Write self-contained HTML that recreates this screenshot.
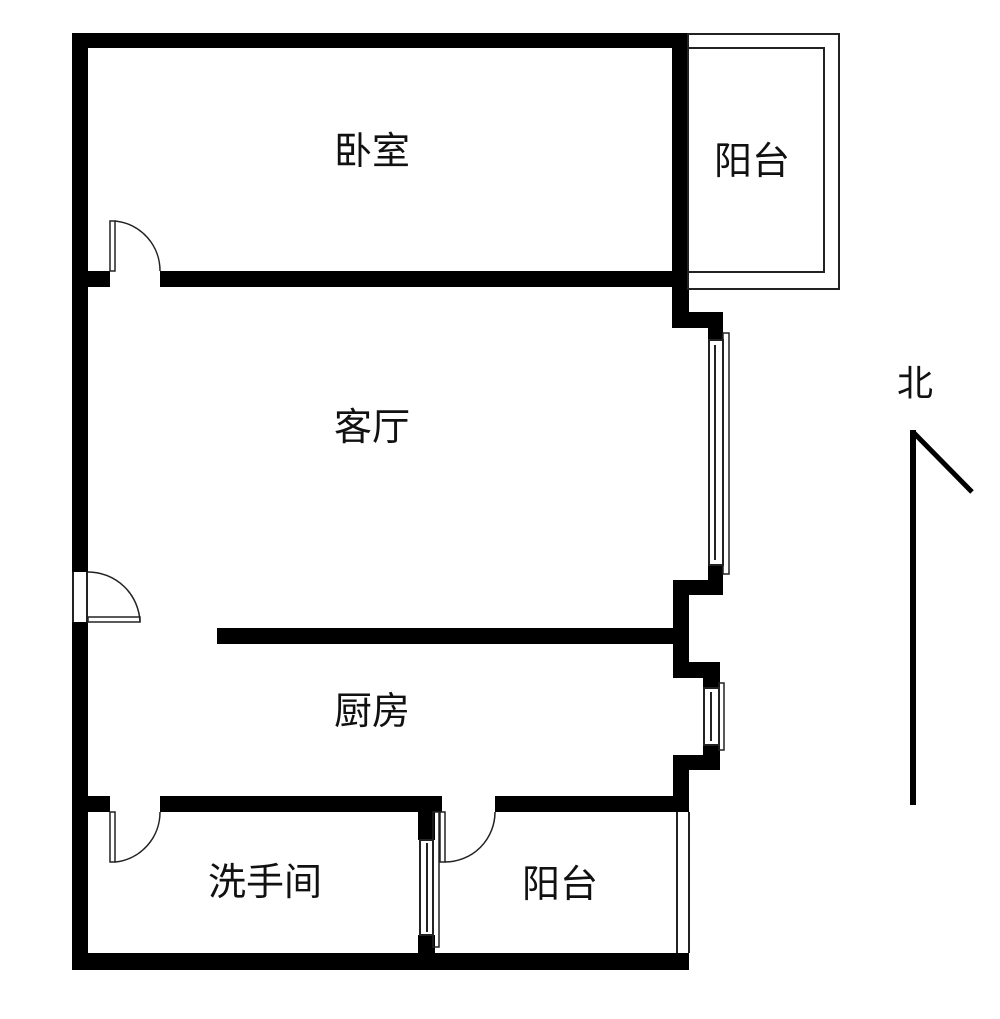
<!DOCTYPE html>
<html><head><meta charset="utf-8"><style>
html,body{margin:0;padding:0;background:#fff;}
svg{display:block;}
text{font-family:"Liberation Sans","Noto Sans CJK SC",sans-serif;font-size:38px;fill:#111;text-anchor:middle;dominant-baseline:central;}
</style></head><body>
<svg width="1000" height="1019" viewBox="0 0 1000 1019" xmlns="http://www.w3.org/2000/svg">
<g fill="#000">
<rect x="72" y="33" width="16" height="539"/>
<rect x="72" y="622" width="16" height="348"/>
<rect x="72" y="33" width="616" height="15"/>
<rect x="672" y="33" width="17" height="295"/>
<rect x="72" y="271" width="38" height="16"/>
<rect x="160" y="271" width="529" height="16"/>
<rect x="673" y="312" width="50" height="16"/>
<rect x="708" y="312" width="15" height="28"/>
<rect x="708" y="565" width="15" height="30"/>
<rect x="673" y="580" width="50" height="15"/>
<rect x="673" y="580" width="16" height="98"/>
<rect x="217" y="628" width="472" height="16"/>
<rect x="673" y="662" width="47" height="16"/>
<rect x="703" y="662" width="17" height="26"/>
<rect x="703" y="745" width="17" height="25"/>
<rect x="673" y="755" width="47" height="15"/>
<rect x="673" y="755" width="16" height="56"/>
<rect x="72" y="796" width="38" height="16"/>
<rect x="160" y="796" width="282" height="16"/>
<rect x="495" y="796" width="194" height="16"/>
<rect x="418" y="796" width="17" height="44"/>
<rect x="418" y="935" width="17" height="35"/>
<rect x="72" y="953" width="617" height="17"/>
</g>
<g fill="none" stroke="#222" stroke-width="2">
<rect x="688" y="34" width="151" height="255"/>
<rect x="688" y="48" width="136" height="224"/>
<rect x="709" y="340" width="14" height="225"/>
<line x1="715" y1="345" x2="715" y2="560"/>
<rect x="723" y="333" width="6" height="241" stroke-width="1.5"/>
<rect x="704" y="688" width="15" height="57"/>
<line x1="711" y1="692" x2="711" y2="741"/>
<rect x="719" y="683" width="5" height="67" stroke-width="1.5"/>
<rect x="420" y="840" width="13" height="95"/>
<line x1="427" y1="843" x2="427" y2="932"/>
<rect x="433" y="812" width="6" height="135" stroke-width="1.5"/>
<line x1="677" y1="812" x2="677" y2="953"/>
<line x1="689" y1="812" x2="689" y2="953"/>
<line x1="73" y1="572" x2="73" y2="622"/>
<line x1="87" y1="572" x2="87" y2="622"/>
</g>
<g fill="#fff" stroke="#222" stroke-width="1.5">
<rect x="110" y="221" width="5" height="50"/>
<rect x="88" y="617" width="52" height="5"/>
<rect x="110" y="812" width="5" height="50"/>
<rect x="440" y="812" width="5" height="50"/>
</g>
<g fill="none" stroke="#222" stroke-width="1.5">
<path d="M115 221 A50 50 0 0 1 160 271"/>
<path d="M88 572 A52 52 0 0 1 140 622"/>
<path d="M115 862 A50 50 0 0 0 160 812"/>
<path d="M445 862 A50 50 0 0 0 495 812"/>
</g>
<rect x="910" y="430" width="6" height="375" fill="#000"/>
<line x1="913" y1="432" x2="972" y2="492" stroke="#000" stroke-width="5"/>
<text x="915" y="383" style="font-size:36px">北</text>
<text x="372" y="152">卧室</text>
<text x="752" y="162">阳台</text>
<text x="372" y="428">客厅</text>
<text x="372" y="712">厨房</text>
<text x="265" y="883">洗手间</text>
<text x="560" y="885">阳台</text>
</svg>
</body></html>
